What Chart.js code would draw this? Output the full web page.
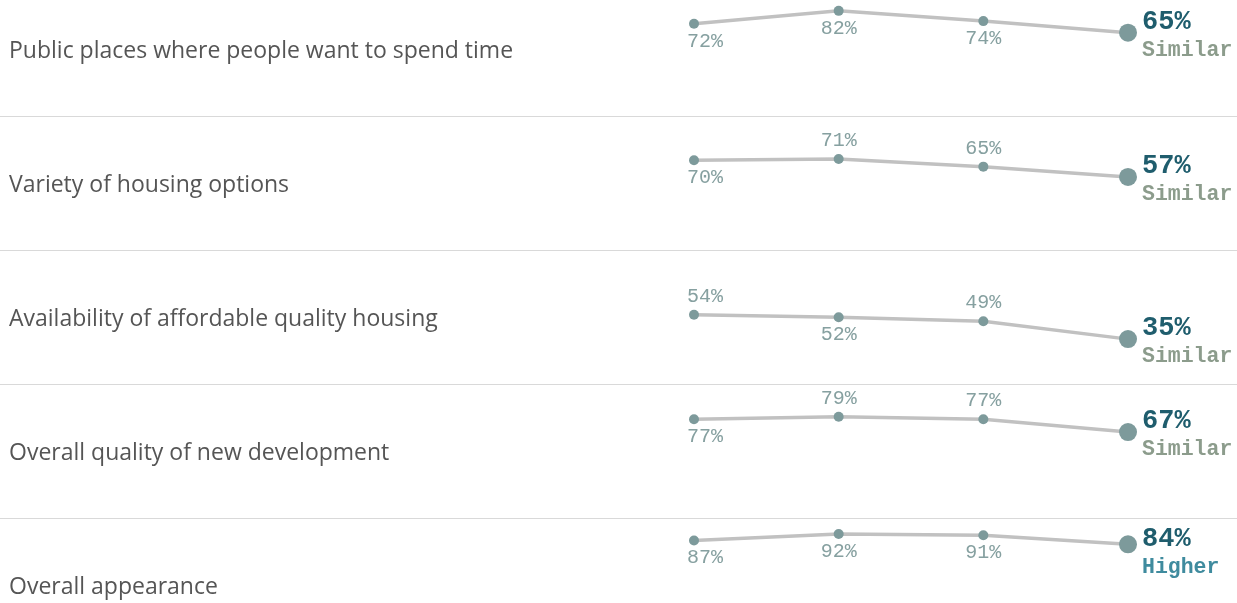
<!DOCTYPE html>
<html>
<head>
<meta charset="utf-8">
<script src="https://cdn.jsdelivr.net/npm/chart.js@4.4.1/dist/chart.umd.min.js"></script>
<style>
  html, body { margin: 0; padding: 0; background: #fff; }
  body { width: 1237px; height: 603px; overflow: hidden; position: relative; }
  #rows { position: absolute; left: 0; top: -18px; width: 1237px; }
  .row { position: relative; width: 1237px; height: 134px; }
  .row canvas { display: block; }
</style>
</head>
<body>
<div id="rows"></div>
<script>
// Data
const periods = ['P1', 'P2', 'P3', 'P4'];
const rowLabels = [
    'Public places where people want to spend time',
    'Variety of housing options',
    'Availability of affordable quality housing',
    'Overall quality of new development',
    'Overall appearance'
];
const publicPlaces = [72, 82, 74, 65];
const housingVariety = [70, 71, 65, 57];
const affordableHousing = [54, 52, 49, 35];
const newDevelopment = [77, 79, 77, 67];
const appearance = [87, 92, 91, 84];
const comparison = ['Similar', 'Similar', 'Similar', 'Similar', 'Higher'];

const series = [publicPlaces, housingVariety, affordableHousing, newDevelopment, appearance];

// Where each small label sits relative to its point
const labelSide = [
    ['below', 'below', 'below'],
    ['below', 'above', 'above'],
    ['above', 'below', 'above'],
    ['below', 'above', 'above'],
    ['below', 'below', 'below']
];
const endNudge = [0, 0, 0, 0, 6];

const Theme = {
    line: '#c1c1c1',
    point: '#7d9a9b',
    smallText: '#86a0a0',
    valueText: '#1f5d6d',
    similar: '#8c9c8c',
    higher: '#3f8b9e',
    rowText: '#555555',
    rule: '#d9d9d9',
    mono: "'Liberation Mono', 'Courier New', monospace",
    sans: "'Open Sans', 'Noto Sans', sans-serif"
};

const rowPlugin = {
    id: 'rowDecor',
    beforeDraw(chart, args, opts) {
        const ctx = chart.ctx;
        ctx.save();
        if (opts.index > 0) {
            ctx.fillStyle = Theme.rule;
            ctx.fillRect(0, 0, chart.width, 1);
        }
        ctx.fillStyle = Theme.rowText;
        ctx.font = '23px ' + Theme.sans;
        ctx.textAlign = 'left';
        ctx.textBaseline = 'alphabetic';
        ctx.fillText(rowLabels[opts.index], 9, 76);
        ctx.restore();
    },
    afterDatasetsDraw(chart, args, opts) {
        const ctx = chart.ctx;
        const i = opts.index;
        const pts = chart.getDatasetMeta(0).data;
        const vals = series[i];
        ctx.save();
        ctx.textBaseline = 'alphabetic';
        ctx.font = '20px ' + Theme.mono;
        ctx.fillStyle = Theme.smallText;
        for (let k = 0; k < pts.length - 1; k++) {
            const p = pts[k];
            const y = labelSide[i][k] === 'above' ? p.y - 13 : p.y + 23;
            if (k === 0) {
                ctx.textAlign = 'left';
                ctx.fillText(vals[k] + '%', p.x - 7, y);
            } else {
                ctx.textAlign = 'center';
                ctx.fillText(vals[k] + '%', p.x, y);
            }
        }
        const last = pts[pts.length - 1];
        const n = endNudge[i];
        ctx.textAlign = 'left';
        ctx.font = 'bold 27px ' + Theme.mono;
        ctx.fillStyle = Theme.valueText;
        ctx.fillText(vals[vals.length - 1] + '%', last.x + 14, last.y - 4 + n);
        ctx.font = 'bold 21.5px ' + Theme.mono;
        ctx.fillStyle = comparison[i] === 'Higher' ? Theme.higher : Theme.similar;
        ctx.fillText(comparison[i], last.x + 14, last.y + 23 + n);
        ctx.restore();
    }
};

function buildRow(i) {
    const wrap = document.createElement('div');
    wrap.className = 'row';
    const canvas = document.createElement('canvas');
    canvas.width = 1237;
    canvas.height = 134;
    wrap.appendChild(canvas);
    document.getElementById('rows').appendChild(wrap);

    const radii = series[i].map((v, k) => k === series[i].length - 1 ? 9 : 5);

    new Chart(canvas, {
        type: 'line',
        data: {
            labels: periods,
            datasets: [{
                data: series[i],
                borderColor: Theme.line,
                borderWidth: 3.5,
                pointRadius: radii,
                pointBackgroundColor: Theme.point,
                pointBorderWidth: 0,
                tension: 0,
                clip: false
            }]
        },
        options: {
            responsive: false,
            animation: false,
            events: [],
            layout: { autoPadding: false, padding: { left: 694, right: 109, top: 0, bottom: 0 } },
            plugins: {
                legend: { display: false },
                tooltip: { enabled: false },
                rowDecor: { index: i }
            },
            scales: {
                x: { display: false, offset: false },
                y: { display: false, min: 0, max: 104.5 }
            }
        },
        plugins: [rowPlugin]
    });
}

document.addEventListener('DOMContentLoaded', () => {
    for (let i = 0; i < series.length; i++) buildRow(i);
});
</script>
</body>
</html>
